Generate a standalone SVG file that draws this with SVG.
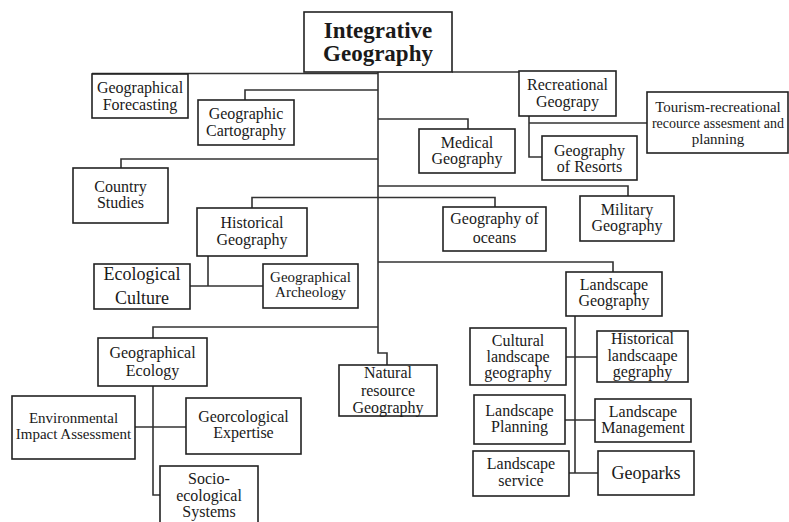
<svg xmlns="http://www.w3.org/2000/svg" width="789" height="522" viewBox="0 0 789 522">
<style>
.box{fill:#fff;stroke:#222;stroke-width:1.6}
.ln{fill:none;stroke:#333;stroke-width:1.6}
text{font-family:"Liberation Serif","Times New Roman",serif;font-size:16px;text-anchor:middle;fill:#1a1a1a}
.t{font-size:23px;font-weight:bold}
.s{font-size:15px}
.xs{font-size:14px}
.l{font-size:18px}
</style>
<rect width="789" height="522" fill="#fff"/>
<g id="connectors">
<path class="ln" d="M378,72 V353 H387 V365"/>
<path class="ln" d="M92,73.5 H378"/>
<path class="ln" d="M452,72 H519"/>
<path class="ln" d="M378,90 H245 V100"/>
<path class="ln" d="M378,119 H468 V129"/>
<path class="ln" d="M378,159 H121 V168"/>
<path class="ln" d="M378,186 H628 V196"/>
<path class="ln" d="M252,208 V197.5 H495 V207"/>
<path class="ln" d="M378,262 H613 V272"/>
<path class="ln" d="M378,327 H153 V338"/>
<path class="ln" d="M529,116 V157 H542 M529,123 H647"/>
<path class="ln" d="M208,256 V286 M190,286 H263"/>
<path class="ln" d="M153,386 V495 H160 M135,427 H186"/>
<path class="ln" d="M575,316 V473 M566,357 H597 M565,420 H595 M569,473 H598"/>
</g>
<g id="integrative-geography"><rect class="box" x="304" y="12" width="148" height="60"/><text class="t" x="378" y="38">Integrative</text><text class="t" x="378" y="61">Geography</text></g>
<g id="geographical-forecasting"><rect class="box" x="92" y="74" width="96" height="44"/><text x="140" y="93">Geographical</text><text x="140" y="110">Forecasting</text></g>
<g id="geographic-cartography"><rect class="box" x="198" y="100" width="96" height="45"/><text x="246" y="119">Geographic</text><text x="246" y="136">Cartography</text></g>
<g id="recreational-geograpy"><rect class="box" x="519" y="71" width="97" height="45"/><text x="567.5" y="90">Recreational</text><text x="567.5" y="107">Geograpy</text></g>
<g id="tourism"><rect class="box" x="647" y="92" width="141" height="61"/><text class="s" x="718" y="112">Tourism-recreational</text><text class="xs" x="718" y="128">recource assesment and</text><text class="s" x="718" y="144">planning</text></g>
<g id="medical-geography"><rect class="box" x="419" y="129" width="96" height="44"/><text x="467" y="148">Medical</text><text x="467" y="164">Geography</text></g>
<g id="geography-of-resorts"><rect class="box" x="542" y="136" width="95" height="44"/><text x="589.5" y="156">Geography</text><text x="589.5" y="172">of Resorts</text></g>
<g id="country-studies"><rect class="box" x="73" y="168" width="95" height="55"/><text x="120.5" y="192">Country</text><text x="120.5" y="208">Studies</text></g>
<g id="military-geography"><rect class="box" x="580" y="196" width="94" height="45"/><text x="627" y="215">Military</text><text x="627" y="231">Geography</text></g>
<g id="geography-of-oceans"><rect class="box" x="443" y="207" width="103" height="44"/><text x="494.5" y="224">Geography of</text><text x="494.5" y="243">oceans</text></g>
<g id="historical-geography"><rect class="box" x="197" y="208" width="110" height="48"/><text x="252" y="228">Historical</text><text x="252" y="245">Geography</text></g>
<g id="ecological-culture"><rect class="box" x="94" y="264" width="96" height="45"/><text class="l" x="142" y="280">Ecological</text><text class="l" x="142" y="304">Culture</text></g>
<g id="geographical-archeology"><rect class="box" x="263" y="264" width="95" height="44"/><text class="s" x="310.5" y="282">Geographical</text><text class="s" x="310.5" y="297">Archeology</text></g>
<g id="landscape-geography"><rect class="box" x="566" y="272" width="96" height="44"/><text x="614" y="290">Landscape</text><text x="614" y="306">Geography</text></g>
<g id="geographical-ecology"><rect class="box" x="98" y="338" width="109" height="48"/><text x="152.5" y="358">Geographical</text><text x="152.5" y="376">Ecology</text></g>
<g id="natural-resource-geography"><rect class="box" x="339" y="365" width="98" height="51"/><text x="388" y="378">Natural</text><text x="388" y="396">resource</text><text x="388" y="413">Geography</text></g>
<g id="environmental-impact-assessment"><rect class="box" x="12" y="396" width="123" height="63"/><text class="s" x="73.5" y="423">Environmental</text><text class="s" x="73.5" y="439">Impact Assessment</text></g>
<g id="georcological-expertise"><rect class="box" x="186" y="398" width="115" height="56"/><text x="243.5" y="422">Georcological</text><text x="243.5" y="438">Expertise</text></g>
<g id="socio-ecological-systems"><rect class="box" x="160" y="466" width="98" height="60"/><text x="209" y="484">Socio-</text><text x="209" y="501">ecological</text><text x="209" y="517">Systems</text></g>
<g id="cultural-landscape-geography"><rect class="box" x="470" y="328" width="96" height="57"/><text x="518" y="346">Cultural</text><text x="518" y="362">landscape</text><text x="518" y="378">geography</text></g>
<g id="historical-landscaape-gegraphy"><rect class="box" x="597" y="331" width="91" height="51"/><text x="642.5" y="344">Historical</text><text x="642.5" y="361">landscaape</text><text x="642.5" y="377">gegraphy</text></g>
<g id="landscape-planning"><rect class="box" x="474" y="395" width="91" height="49"/><text x="519.5" y="416">Landscape</text><text x="519.5" y="432">Planning</text></g>
<g id="landscape-management"><rect class="box" x="595" y="399" width="96" height="43"/><text x="643" y="417">Landscape</text><text x="643" y="433">Management</text></g>
<g id="landscape-service"><rect class="box" x="473" y="451" width="96" height="45"/><text x="521" y="469">Landscape</text><text x="521" y="486">service</text></g>
<g id="geoparks"><rect class="box" x="598" y="451" width="96" height="44"/><text class="l" x="646" y="479">Geoparks</text></g>
</svg>
